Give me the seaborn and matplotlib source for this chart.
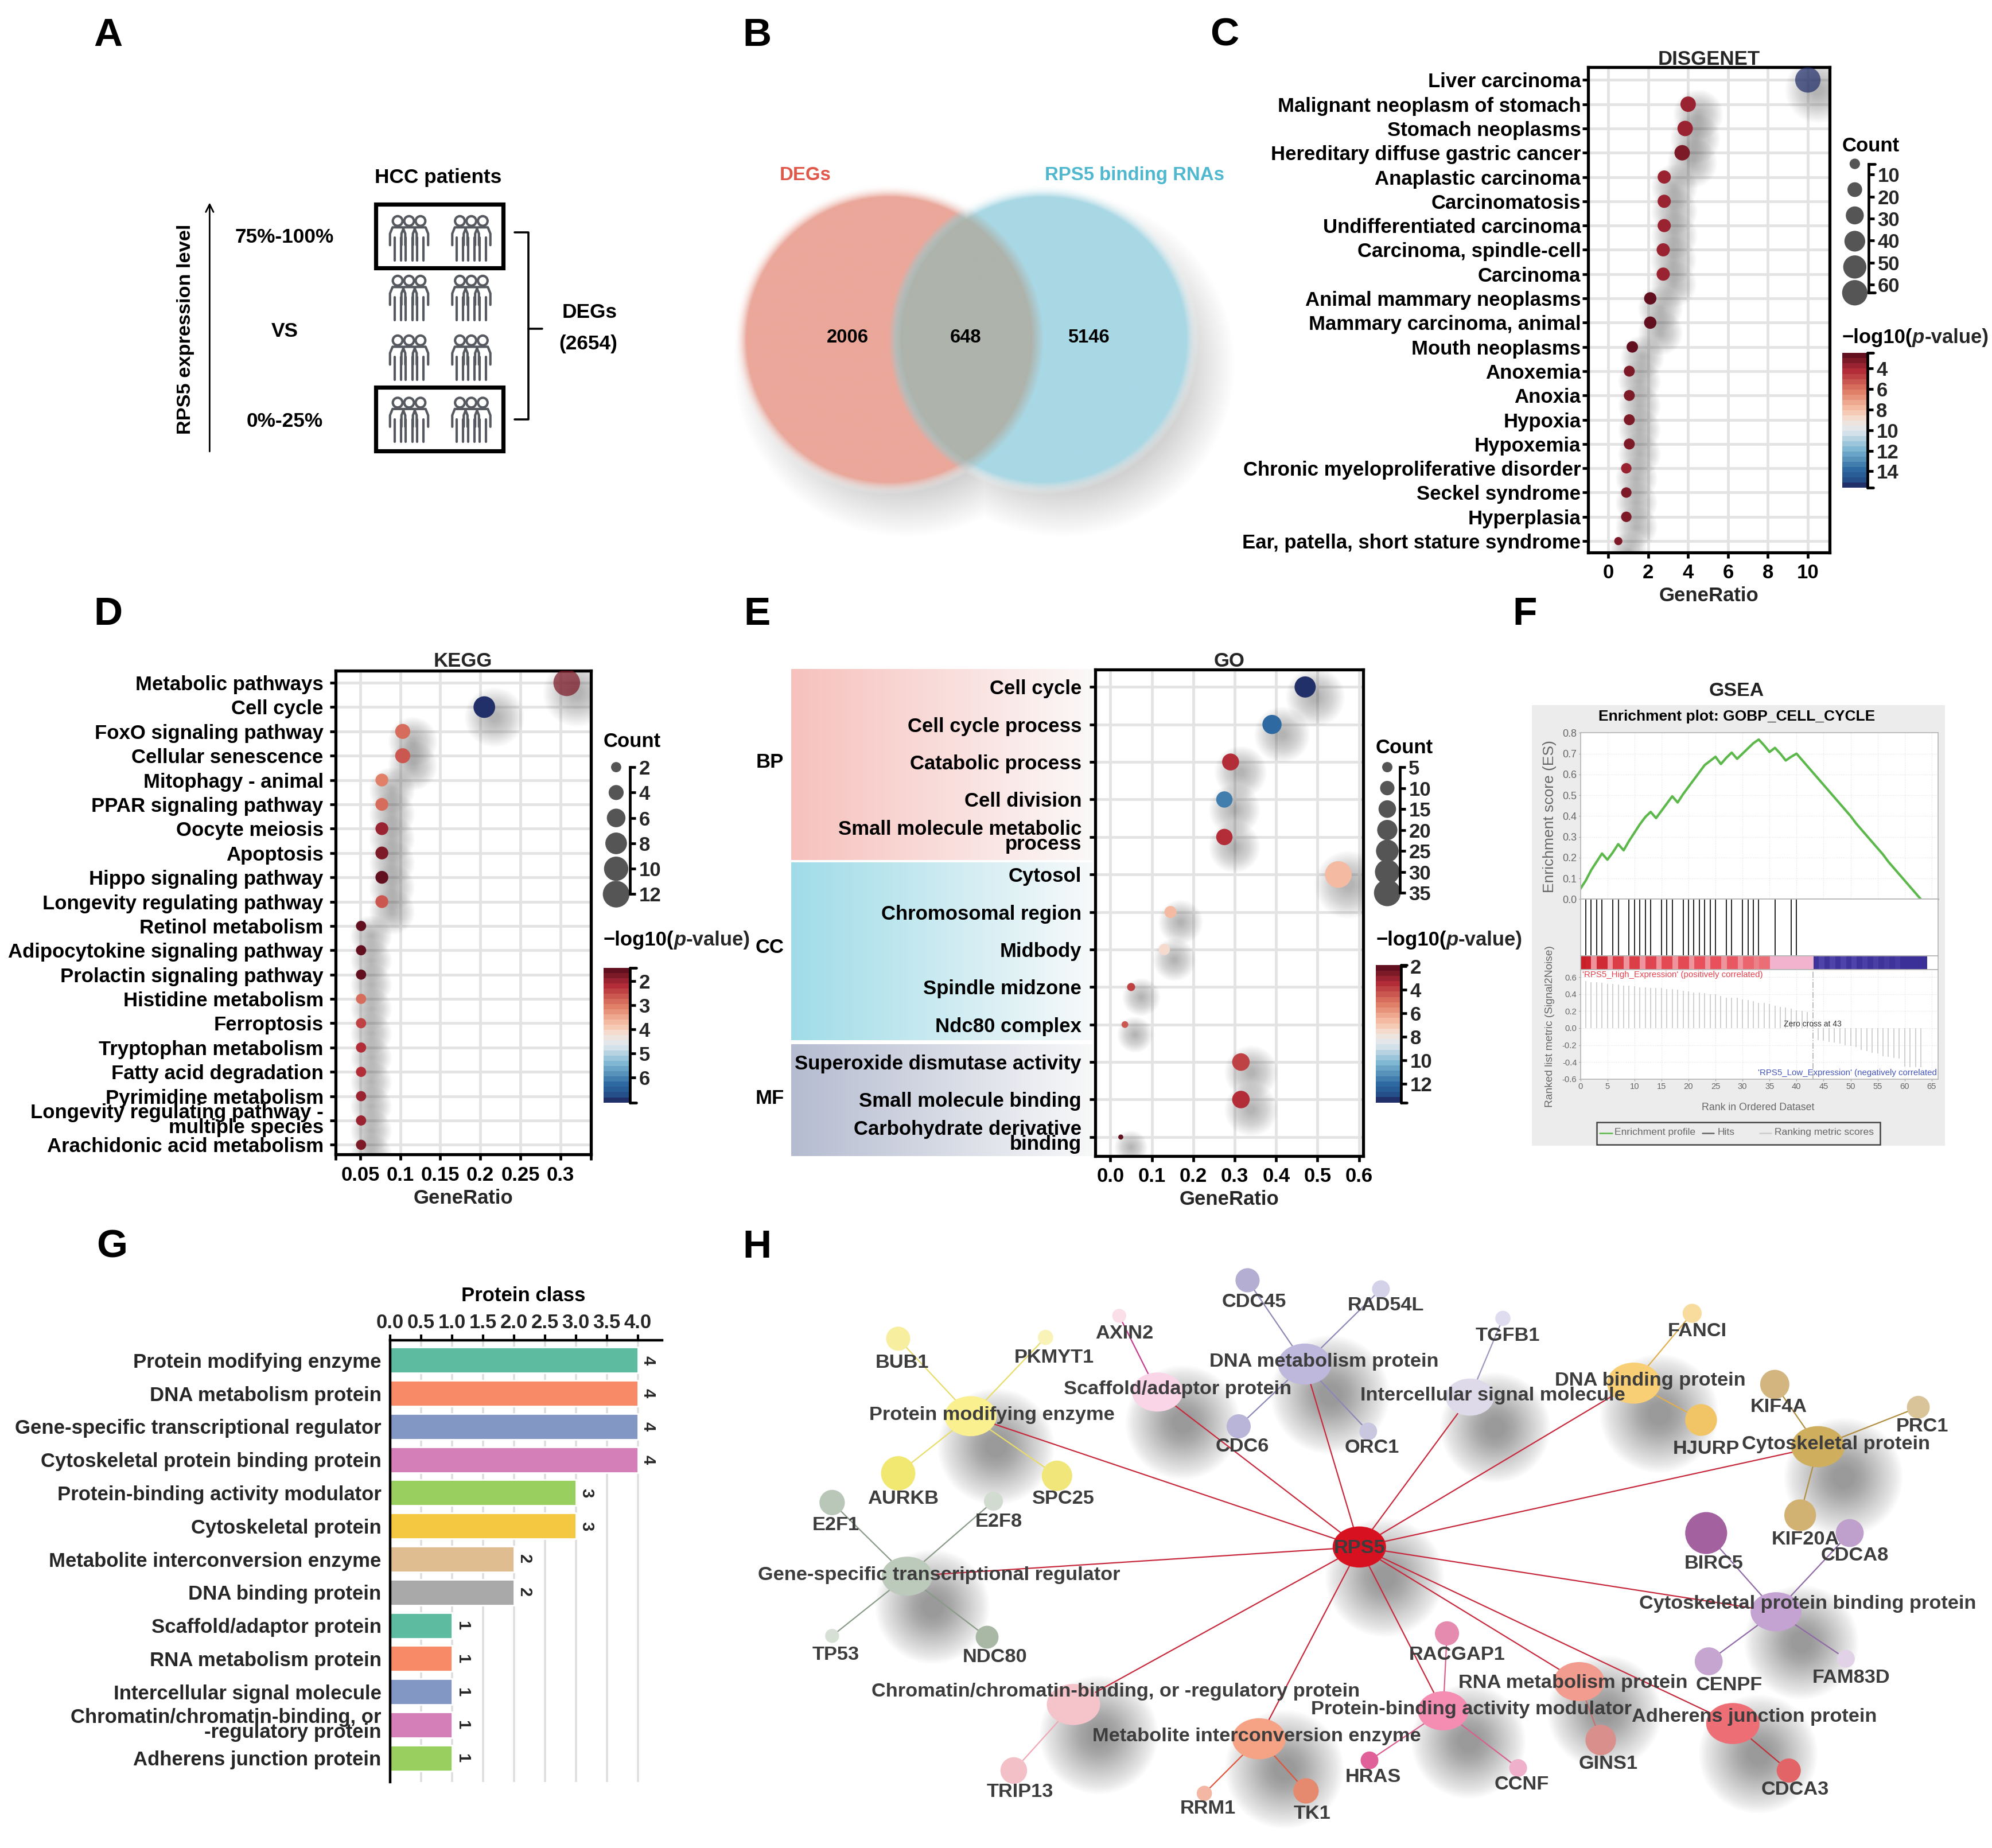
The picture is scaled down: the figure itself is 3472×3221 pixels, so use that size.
import numpy as np
import pandas as pd
import matplotlib
matplotlib.use("Agg")
import matplotlib.pyplot as plt
import seaborn as sns
from matplotlib.cm import ScalarMappable
from matplotlib.colors import LinearSegmentedColormap, ListedColormap, Normalize
from matplotlib.patches import Circle, Rectangle
from matplotlib.path import Path
from matplotlib.transforms import Affine2D, ScaledTranslation

sns.set_theme(style="white")
plt.rcParams["font.family"] = ["Liberation Sans", "DejaVu Sans"]
plt.rcParams["axes.unicode_minus"] = False

# ---------------- data ----------------
disgenet_terms = ["Liver carcinoma", "Malignant neoplasm of stomach", "Stomach neoplasms",
                  "Hereditary diffuse gastric cancer", "Anaplastic carcinoma", "Carcinomatosis",
                  "Undifferentiated carcinoma", "Carcinoma, spindle-cell", "Carcinoma",
                  "Animal mammary neoplasms", "Mammary carcinoma, animal", "Mouth neoplasms",
                  "Anoxemia", "Anoxia", "Hypoxia", "Hypoxemia", "Chronic myeloproliferative disorder",
                  "Seckel syndrome", "Hyperplasia", "Ear, patella, short stature syndrome"]
disgenet_ratio = [10, 4.0, 3.85, 3.7, 2.8, 2.8, 2.8, 2.75, 2.75, 2.1, 2.1, 1.2, 1.05, 1.05, 1.05, 1.05, 0.9, 0.9, 0.9, 0.5]
disgenet_logp = [15.3, 3.8, 3.5, 3.0, 4.0, 4.0, 4.0, 4.0, 4.0, 2.6, 2.6, 2.7, 3.2, 3.2, 3.2, 3.2, 3.6, 3.2, 3.0, 3.2]
disgenet_count = [60, 22, 22, 22, 16, 16, 16, 16, 16, 14, 14, 12, 11, 11, 11, 11, 10, 10, 10, 6]

kegg_terms = ["Metabolic pathways", "Cell cycle", "FoxO signaling pathway", "Cellular senescence",
              "Mitophagy - animal", "PPAR signaling pathway", "Oocyte meiosis", "Apoptosis",
              "Hippo signaling pathway", "Longevity regulating pathway", "Retinol metabolism",
              "Adipocytokine signaling pathway", "Prolactin signaling pathway", "Histidine metabolism",
              "Ferroptosis", "Tryptophan metabolism", "Fatty acid degradation", "Pyrimidine metabolism",
              "Longevity regulating pathway -\nmultiple species", "Arachidonic acid metabolism"]
kegg_ratio = [0.308, 0.205, 0.103, 0.103, 0.077, 0.077, 0.077, 0.077, 0.077, 0.077,
              0.051, 0.051, 0.051, 0.051, 0.051, 0.051, 0.051, 0.051, 0.051, 0.051]
kegg_logp = [1.8, 7.0, 2.9, 2.7, 3.0, 2.85, 1.9, 1.8, 1.55, 2.6, 1.55, 1.55, 1.6, 2.9, 2.4, 2.3, 2.1, 1.9, 1.9, 1.8]
kegg_count = [12, 8, 4, 4, 3, 3, 3, 3, 3, 3, 2, 2, 2, 2, 2, 2, 2, 2, 2, 2]

go_terms = ["Cell cycle", "Cell cycle process", "Catabolic process", "Cell division",
            "Small molecule metabolic\nprocess", "Cytosol", "Chromosomal region", "Midbody",
            "Spindle midzone", "Ndc80 complex", "Superoxide dismutase activity",
            "Small molecule binding", "Carbohydrate derivative\nbinding"]
go_ratio = [0.47, 0.39, 0.29, 0.275, 0.275, 0.55, 0.145, 0.13, 0.05, 0.035, 0.315, 0.315, 0.025]
go_logp = [13.4, 12.0, 3.5, 11.7, 3.5, 6.8, 6.6, 7.3, 4.0, 4.5, 4.0, 3.3, 2.3]
go_count = [22, 18, 14, 13, 13, 35, 7, 6, 3, 2, 15, 15, 1]

rank = list(range(0, 64))
es_curve = [.05, .09, .14, .18, .22, .19, .225, .265, .235, .28, .32, .36, .395, .42, .39, .425, .46, .495,
            .465, .505, .54, .575, .61, .645, .665, .685, .65, .68, .705, .675, .70, .725, .75, .768, .74,
            .708, .728, .70, .667, .685, .70, .67, .64, .61, .58, .55, .52, .49, .46, .43, .40, .365, .335,
            .305, .275, .245, .215, .18, .15, .12, .09, .06, .03, 0.0]
hit_ranks = [1, 2, 3, 4, 6, 7, 9, 10, 11, 12, 13, 15, 16, 17, 19, 20, 21, 22, 23, 24, 25, 27, 28, 30, 31, 32, 33, 36, 39, 40]
metric_ranks = list(range(1, 43)) + list(range(44, 64))
metric_values = [.55, .54, .54, .53, .52, .52, .51, .5, .5, .49, .48, .48, .47, .47, .47, .46, .46, .45, .44, .43,
                 .42, .42, .41, .4, .4, .38, .36, .36, .36, .34, .33, .32, .3, .3, .28, .26, .25, .24, .23, .21,
                 .2, .19, -.14, -.15, -.16, -.17, -.18, -.2, -.21, -.22, -.26, -.27, -.29, -.3, -.33, -.34, -.35,
                 -.36, -.45, -.46, -.46, -.46]
strip_values = [.6, .58, .25, .56, .56, .25, .5, .5, .25, .5, .5, .25, .48, .48, .25, .46, .46, .25, .46, .46, .25,
                .44, .44, .25, .44, .44, .25, .42, .42, .25, .38, .38, .3, .36, .36, .1, .1, .1, .1, .1, .1, .1, .1,
                -.5, -.3, -.5, -.3, -.5, -.3, -.5, -.3, -.5, -.35, -.5, -.35, -.5, -.4, -.5, -.4, -.55, -.55, -.55,
                -.55, -.55, np.nan, np.nan]

class_names = ["Protein modifying enzyme", "DNA metabolism protein", "Gene-specific transcriptional regulator",
               "Cytoskeletal protein binding protein", "Protein-binding activity modulator", "Cytoskeletal protein",
               "Metabolite interconversion enzyme", "DNA binding protein", "Scaffold/adaptor protein",
               "RNA metabolism protein", "Intercellular signal molecule",
               "Chromatin/chromatin-binding, or\n-regulatory protein", "Adherens junction protein"]
class_values = [4, 4, 4, 4, 3, 3, 2, 2, 1, 1, 1, 1, 1]
class_colors = ["#5dbb9f", "#f98a67", "#8297c4", "#d57fb9", "#98cf5e", "#f5c842", "#e0bd90", "#a9a9a9",
                "#5dbb9f", "#f98a67", "#8297c4", "#d57fb9", "#98cf5e"]

venn_counts = ["2006", "648", "5146"]

network = {
    "Protein modifying enzyme": ["BUB1", "PKMYT1", "AURKB", "SPC25"],
    "DNA metabolism protein": ["CDC45", "RAD54L", "CDC6", "ORC1"],
    "Scaffold/adaptor protein": ["AXIN2"],
    "Intercellular signal molecule": ["TGFB1"],
    "DNA binding protein": ["FANCI", "HJURP"],
    "Cytoskeletal protein": ["KIF4A", "PRC1", "KIF20A"],
    "Cytoskeletal protein binding protein": ["BIRC5", "CDCA8", "CENPF", "FAM83D"],
    "Adherens junction protein": ["CDCA3"],
    "RNA metabolism protein": ["GINS1"],
    "Protein-binding activity modulator": ["RACGAP1", "HRAS", "CCNF"],
    "Metabolite interconversion enzyme": ["TK1", "RRM1"],
    "Chromatin/chromatin-binding, or -regulatory protein": ["TRIP13"],
    "Gene-specific transcriptional regulator": ["E2F1", "E2F8", "TP53", "NDC80"],
}
# node: x, y, width, colour, label x, label y (all in reference pixels)
layout = {
    "RPS5": (1070, 1218, 42, "#d7111f", 1070, 1219),
    "Protein modifying enzyme": (764, 1115, 41, "#fbf08f", 781, 1114),
    "DNA metabolism protein": (1027, 1074, 42, "#bdb8dc", 1042, 1072),
    "Scaffold/adaptor protein": (911, 1096, 40, "#fad5e8", 927, 1094),
    "Intercellular signal molecule": (1157, 1100, 38, "#dedaea", 1175, 1099),
    "DNA binding protein": (1286, 1089, 42, "#f9cf76", 1299, 1087),
    "Cytoskeletal protein": (1431, 1139, 42, "#cfae5e", 1445, 1137),
    "Cytoskeletal protein binding protein": (1398, 1269, 40, "#c4a2d2", 1423, 1263),
    "Adherens junction protein": (1364, 1357, 42, "#ee6e75", 1381, 1352),
    "RNA metabolism protein": (1243, 1324, 40, "#f29c8f", 1238, 1325),
    "Protein-binding activity modulator": (1136, 1347, 40, "#f58cb2", 1158, 1346),
    "Metabolite interconversion enzyme": (991, 1369, 42, "#f6a285", 989, 1367),
    "Chromatin/chromatin-binding, or -regulatory protein": (845, 1342, 42, "#f5c3ca", 878, 1332),
    "Gene-specific transcriptional regulator": (714, 1241, 40, "#bccabb", 739, 1240),
    "BUB1": (707, 1054, 19, "#f8eea0", 710, 1073), "PKMYT1": (823, 1053, 12, "#f9f3b8", 830, 1069),
    "AURKB": (707, 1160, 27, "#f1e872", 711, 1180), "SPC25": (832, 1162, 24, "#f0e67a", 837, 1180),
    "AXIN2": (881, 1036, 11, "#fadfe9", 885, 1050), "CDC45": (982, 1008, 19, "#b3aed2", 987, 1025),
    "RAD54L": (1087, 1015, 14, "#d4d2e8", 1091, 1028), "CDC6": (975, 1123, 19, "#b8b5d8", 978, 1139),
    "ORC1": (1077, 1127, 14, "#c9c7e0", 1080, 1140), "TGFB1": (1183, 1038, 12, "#dedcee", 1187, 1052),
    "FANCI": (1332, 1034, 15, "#f8dc9e", 1336, 1048), "HJURP": (1339, 1118, 25, "#f1c565", 1343, 1141),
    "KIF4A": (1397, 1090, 23, "#d2b57f", 1400, 1108), "PRC1": (1510, 1108, 18, "#d9c49a", 1513, 1123),
    "KIF20A": (1417, 1193, 25, "#d2b272", 1421, 1212), "BIRC5": (1343, 1207, 33, "#a3619f", 1349, 1231),
    "CDCA8": (1456, 1207, 22, "#bf9fcb", 1460, 1225), "CENPF": (1345, 1308, 22, "#c6a5d0", 1361, 1327),
    "FAM83D": (1453, 1306, 14, "#e2d2e8", 1457, 1321), "CDCA3": (1408, 1394, 19, "#e26467", 1413, 1409),
    "GINS1": (1260, 1370, 24, "#d98f8c", 1266, 1389), "RACGAP1": (1139, 1286, 19, "#e58bb0", 1147, 1303),
    "CCNF": (1195, 1392, 14, "#efb0cc", 1198, 1405), "HRAS": (1078, 1386, 14, "#e0609a", 1081, 1399),
    "TK1": (1028, 1410, 20, "#e58a6f", 1033, 1428), "RRM1": (948, 1412, 12, "#f4b7a3", 951, 1424),
    "TRIP13": (798, 1394, 21, "#f3c0c8", 803, 1411), "E2F1": (655, 1183, 20, "#b8c7b8", 658, 1201),
    "E2F8": (782, 1182, 15, "#d1dbd0", 786, 1198), "TP53": (655, 1288, 11, "#d6e0d5", 658, 1303),
    "NDC80": (777, 1289, 18, "#a8b8a5", 783, 1305),
}
edge_colors = {
    "Protein modifying enzyme": "#e8dc6a", "DNA metabolism protein": "#8b88b8", "Scaffold/adaptor protein": "#c8388f",
    "Intercellular signal molecule": "#9a97c0", "DNA binding protein": "#e0b050", "Cytoskeletal protein": "#b09040",
    "Cytoskeletal protein binding protein": "#8f6aa6", "Adherens junction protein": "#c03038",
    "RNA metabolism protein": "#c87070", "Protein-binding activity modulator": "#d8608f",
    "Metabolite interconversion enzyme": "#e0553a", "Chromatin/chromatin-binding, or -regulatory protein": "#f0a8b4",
    "Gene-specific transcriptional regulator": "#8a9a88",
}

# ---------------- figure helpers ----------------
W, H = 1568, 1455  # reference units, everything below is placed in these
PT = (3472 / W) * 72 / 200  # points per reference unit
FS = 12.5
fig = plt.figure(figsize=(17.36, 16.105), dpi=200, facecolor="white")


def ax_at(x0, y0, x1, y1, **kw):
    return fig.add_axes([x0 / W, 1 - y1 / H, (x1 - x0) / W, (y1 - y0) / H], **kw)


canvas = fig.add_axes([0, 0, 1, 1], zorder=0)
canvas.set_xlim(0, W)
canvas.set_ylim(H, 0)
canvas.axis("off")

# same stepped look as the reference colour bars
rdbu = ListedColormap(LinearSegmentedColormap.from_list(
    "rdbu_ref", [(0, "#62101f"), (0.115, "#b22c38"), (0.27, "#df7c64"), (0.42, "#f7c4ab"), (0.5, "#f3e3da"),
                 (0.58, "#dfe8ee"), (0.73, "#7ab4d0"), (0.88, "#2e6ba2"), (0.96, "#25508a"), (1, "#22306a")])(np.linspace(0, 1, 26)))


def txt(x, y, s, fs=FS, color="black", weight="bold", ha="center", va="center", **kw):
    return canvas.text(x, y, s, fontsize=fs, color=color, fontweight=weight, ha=ha, va=va, **kw)


def add_shadow(ax, x, y, sizes, dx=8, dy=8, rel=1.2, extra=20, zorder=2, layers=30, alpha=0.011):
    # soft drop shadow made of stacked transparent discs
    off = ax.transData + ScaledTranslation(dx * PT / 72, -dy * PT / 72, fig.dpi_scale_trans)
    base = np.sqrt(np.asarray(sizes, dtype=float))
    for t in np.linspace(0, 1, layers):
        d = base * (0.4 + t * rel) + t * extra * PT
        ax.scatter(x, y, s=d ** 2, color="#2a2a2a", alpha=alpha, linewidths=0, transform=off, zorder=zorder)


def dot_panel(rect, terms, ratio, logp, count, title, xticks, xlabels, xlim, ylim, hue_norm, size_norm, sizes, ypad=2.5, alpha=None):
    ax = ax_at(*rect, zorder=2)
    ax.set_facecolor("none")
    y = np.arange(len(terms))
    df = pd.DataFrame({"ratio": ratio, "row": y, "logp": logp, "count": count})
    sns.scatterplot(data=df, x="ratio", y="row", hue="logp", size="count", palette=rdbu, hue_norm=hue_norm,
                    size_norm=size_norm, sizes=sizes, linewidth=0, legend=False, ax=ax, zorder=4)
    pc = ax.collections[-1]
    if alpha is not None:
        pc.set_alpha(alpha)
    add_shadow(ax, df["ratio"], df["row"], pc.get_sizes())
    ax.set_xlim(*xlim)
    ax.set_ylim(*ylim)
    ax.set_xticks(xticks, xlabels)
    ax.set_yticks(y, terms)
    ax.set_axisbelow(True)
    ax.grid(True, color="#e3e3e3", lw=1.7)
    for sp in ax.spines.values():
        sp.set_visible(True)
        sp.set_linewidth(1.9)
        sp.set_color("black")
    ax.tick_params(axis="both", length=3.5, width=1.7, color="black", bottom=True, left=True)
    ax.tick_params(axis="x", pad=3.5)
    ax.tick_params(axis="y", pad=ypad)
    for lab in ax.get_xticklabels() + ax.get_yticklabels():
        lab.set_fontweight("bold")
        lab.set_fontsize(FS)
        lab.set_color("black")
    for lab in ax.get_yticklabels():
        lab.set_linespacing(0.72)
        lab.set_multialignment("right")
    ax.set_title(title, fontsize=FS, fontweight="bold", pad=1.5)
    ax.set_xlabel("GeneRatio", fontsize=FS, fontweight="bold", labelpad=2.5)
    ax.set_ylabel("")
    return ax


def count_legend(x_spine, x_dot, y0, y1, values, sizes, size_norm, title_x, title_y, dot_y0=None, dot_y1=None):
    # axes runs in reference pixels so the dots and the ticks can be spaced apart
    dot_y0 = y0 if dot_y0 is None else dot_y0
    dot_y1 = y1 if dot_y1 is None else dot_y1
    top, bot = min(y0, dot_y0) - 12, max(y1, dot_y1) + 14
    ax = ax_at(x_spine - 30, top, x_spine, bot, zorder=2)
    ax.set_facecolor("none")
    sns.scatterplot(x=[x_dot] * len(values), y=np.linspace(dot_y0, dot_y1, len(values)), size=values, sizes=sizes,
                    size_norm=size_norm, color="#555555", linewidth=0, legend=False, ax=ax, clip_on=False)
    ax.set_xlim(x_spine - 30, x_spine)
    ax.set_ylim(bot, top)
    ax.set_xticks([])
    ax.yaxis.tick_right()
    ax.set_yticks(np.linspace(y0, y1, len(values)), [str(v) for v in values])
    ax.tick_params(axis="y", length=3.5, width=1.7, color="black", right=True, pad=2)
    for lab in ax.get_yticklabels():
        lab.set_fontweight("bold")
        lab.set_fontsize(FS)
    for k, sp in ax.spines.items():
        sp.set_visible(k == "right")
    ax.spines["right"].set_color("black")
    ax.spines["right"].set_linewidth(1.7)
    ax.spines["right"].set_bounds(min(y0, dot_y0), max(y1, dot_y1))
    if dot_y0 < y0:
        ax.plot([x_spine, x_spine + 5], [dot_y0, dot_y0], color="black", lw=1.7, clip_on=False)
        ax.plot([x_spine, x_spine + 5], [dot_y1, dot_y1], color="black", lw=1.7, clip_on=False)
    txt(title_x, title_y, "Count", ha="left")


def color_legend(x0, y0, x1, y1, lo, hi, ticks, title_x, title_y):
    cax = ax_at(x0, y0, x1, y1, zorder=2)
    cb = fig.colorbar(ScalarMappable(Normalize(lo, hi), rdbu), cax=cax)
    cb.outline.set_visible(False)
    cax.set_ylim(hi, lo)
    cb.set_ticks(ticks, labels=[str(t) for t in ticks])
    cax.tick_params(axis="y", length=3.5, width=1.7, color="black", right=True, pad=2)
    for lab in cax.get_yticklabels():
        lab.set_fontweight("bold")
        lab.set_fontsize(FS)
    cax.plot([1, 1], [lo, hi], color="black", lw=1.7, clip_on=False, zorder=5)
    for end in (lo, hi):
        cax.plot([1, 1.22], [end, end], color="black", lw=1.7, clip_on=False, zorder=5)
    # title has an italic p, so it is chained from three text pieces
    t1 = txt(title_x, title_y, "\u2212log10(", ha="left")
    t2 = canvas.annotate("p", xy=(1, 0), xycoords=t1, va="bottom", fontsize=FS, fontweight="bold", fontstyle="italic")
    canvas.annotate("-value)", xy=(1, 0), xycoords=t2, va="bottom", fontsize=FS, fontweight="bold")


# ---------------- panel letters ----------------
for letter, lx, ly in [("A", 85, 28), ("B", 596, 28), ("C", 964, 28), ("D", 85, 484), ("E", 596, 484),
                       ("F", 1200, 484), ("G", 88, 982), ("H", 596, 982)]:
    txt(lx, ly, letter, fs=25)

# ---------------- A ----------------
txt(345, 140, "HCC patients", fs=12.7)
txt(146, 259, "RPS5 expression level", fs=12.4, rotation=90)
txt(224, 187, "75%-100%", fs=12.7)
txt(224, 261, "VS", fs=12.7)
txt(224, 332, "0%-25%", fs=12.7)
txt(464, 246, "DEGs", fs=12.7)
txt(463, 271, "(2654)", fs=12.7)
canvas.annotate("", xy=(165, 157), xytext=(165, 358), arrowprops=dict(arrowstyle="->", lw=1, color="black"))
for by in (161, 305):
    canvas.add_patch(Rectangle((296, by), 100, 50, fill=False, ec="black", lw=2.6))
canvas.plot([405, 416, 416, 405], [183, 183, 330, 330], color="black", lw=1.3)
canvas.plot([416, 427], [259, 259], color="black", lw=1.3)
for gx in (322, 371):
    for gy in (187, 234, 281, 330):
        for px in (gx - 9, gx + 9, gx):
            head_y = gy - 13
            canvas.add_patch(Circle((px, head_y), 3.8, fill=True, fc="white", ec="#565a60", lw=1.5, zorder=3))
            canvas.plot(px + np.array([-6, -6, -4, 4, 6, 6]), gy + np.array([6, -3, -8, -8, -3, 6]),
                        color="#565a60", lw=1.5, zorder=3)
            canvas.plot([px - 2.5, px - 2.5], [gy, gy + 18], color="#565a60", lw=1.5, zorder=3)
            canvas.plot([px + 2.5, px + 2.5], [gy, gy + 18], color="#565a60", lw=1.5, zorder=3)

# ---------------- B ----------------
gx_, gy_ = np.meshgrid(np.arange(540, 990, 1.0), np.arange(120, 440, 1.0))


def soft_disc(cx, cy, r, w):
    return np.clip((r - np.hypot(gx_ - cx, gy_ - cy)) / w + 0.5, 0, 1)


shadow_a = np.maximum(soft_disc(712, 287, 108, 55), soft_disc(836, 287, 108, 55)) * 0.4
canvas.imshow(np.dstack([np.full_like(gx_, 0.35)] * 3 + [shadow_a]), extent=(540, 990, 440, 120), aspect="auto", zorder=1)
left = soft_disc(699, 267, 117, 10)
right = soft_disc(821, 267, 117, 10)
img = np.ones(gx_.shape + (3,))
for c, m in ((np.array([0xea, 0xa7, 0x9a]) / 255, left), (np.array([0xa9, 0xd8, 0xe5]) / 255, right)):
    img = img * (1 - m[..., None]) + c * m[..., None]
both = (left * right)[..., None]
img = img * (1 - both) + np.array([0xae, 0xb3, 0xab]) / 255 * both
alpha_b = np.maximum(left, right)
canvas.imshow(np.dstack([img, alpha_b]), extent=(540, 990, 440, 120), aspect="auto", zorder=1.5)
canvas.set_xlim(0, W)
canvas.set_ylim(H, 0)
txt(634, 138, "DEGs", fs=11.9, color="#e0584a")
txt(893, 138, "RPS5 binding RNAs", fs=11.9, color="#4fb8cf")
for vx, vs in zip((667, 760, 857), venn_counts):
    txt(vx, 266, vs, fs=11.8, zorder=3)

# ---------------- C ----------------
dot_panel((1250, 53, 1440, 435), disgenet_terms, disgenet_ratio, disgenet_logp, disgenet_count, "DISGENET",
          [0, 2, 4, 6, 8, 10], ["0", "2", "4", "6", "8", "10"], (-1.02, 11.08), (19.47, -0.52),
          (2.49, 15.6), (5, 65), (22, 275), ypad=1.0, alpha=[0.72] + [1] * 19)
count_legend(1471, 1460, 137.5, 224, [10, 20, 30, 40, 50, 60], (22, 275), (5, 65), 1450, 115, dot_y0=129, dot_y1=230.5)
color_legend(1450, 278, 1470, 384, 2.49, 15.6, [4, 6, 8, 10, 12, 14], 1450, 266)

# ---------------- D ----------------
ax_d = dot_panel((264, 528, 465, 909), kegg_terms, kegg_ratio, kegg_logp, kegg_count, "KEGG",
                 [0.05, 0.1, 0.15, 0.2, 0.25, 0.3], ["0.05", "0.1", "0.15", "0.2", "0.25", "0.3"],
                 (0.0189, 0.338), (19.4, -0.5), (1.44, 7.03), (2, 12), (41, 280), ypad=4.0, alpha=[0.72] + [1] * 19)
ax_d.set_xticks([0.0189, 0.338], minor=True)
ax_d.tick_params(axis="x", which="minor", length=3.5, width=1.7, color="black", bottom=True)
count_legend(496, 485, 604, 704, [2, 4, 6, 8, 10, 12], (41, 280), (2, 12), 475, 584)
color_legend(475, 762, 496, 868, 1.44, 7.03, [2, 3, 4, 5, 6], 475, 740)

# ---------------- E ----------------
for (y0, y1, col, lab, ly) in [(527, 677, "#f7c1bd", "BP", 600), (679, 819, "#a0dce8", "CC", 746), (822, 910, "#b5bcd0", "MF", 865)]:
    grad = LinearSegmentedColormap.from_list("g", [col, "#fbfbfb"])
    canvas.imshow(np.linspace(0, 1, 200)[None, :], cmap=grad, vmin=0, vmax=1.05, extent=(623, 860, y1, y0), aspect="auto", zorder=1)
    txt(606, ly, lab)
canvas.set_xlim(0, W)
canvas.set_ylim(H, 0)
dot_panel((862, 527, 1073, 910), go_terms, go_ratio, go_logp, go_count, "GO",
          [0, .1, .2, .3, .4, .5, .6], ["0.0", "0.1", "0.2", "0.3", "0.4", "0.5", "0.6"],
          (-0.037, 0.61), (12.5, -0.47), (1.9, 13.6), (1, 35), (10, 280), ypad=5.0)
count_legend(1102, 1092, 604, 703, [5, 10, 15, 20, 25, 30, 35], (10, 280), (1, 35), 1083, 589)
color_legend(1083, 760, 1103, 868, 1.9, 13.6, [2, 4, 6, 8, 10, 12], 1083, 740)

# ---------------- F ----------------
canvas.add_patch(Rectangle((1206, 555), 325, 347, fc="#ececec", ec="none", zorder=1))
txt(1367, 544, "GSEA", fs=12.2, color="#222222")
txt(1367, 564, "Enrichment plot: GOBP_CELL_CYCLE", fs=9.5)
GRAY = "#666666"
F_X0, F_X1 = 1244, 1525.6
ax_es = ax_at(F_X0, 577, F_X1, 708, zorder=2)
sns.lineplot(x=rank, y=es_curve, color="#5cb84a", lw=1.5, ax=ax_es)
ax_es.set_ylim(0, 0.8)
ax_es.set_yticks(np.arange(0, 0.81, 0.1), [f"{v:.1f}" for v in np.arange(0, 0.81, 0.1)])
ax_hit = ax_at(F_X0, 708, F_X1, 752.5, zorder=2)
ax_hit.vlines(hit_ranks, 0, 1, color="#222222", lw=0.7)
ax_hit.set_ylim(0, 0.98)
ax_hit.set_yticks([])
ax_strip = ax_at(F_X0, 752.5, F_X1, 763.3, zorder=2)
strip_cmap = LinearSegmentedColormap.from_list(
    "s", [(0, "#372c94"), (0.3, "#5247ac"), (0.495, "#5247ac"), (0.5, "#f2b3cf"), (0.62, "#f2b3cf"),
          (0.72, "#ef8f97"), (0.87, "#e8505a"), (1, "#c81e28")])
sns.heatmap(np.array([strip_values]), cmap=strip_cmap, vmin=-0.6, vmax=0.6, cbar=False, xticklabels=False,
            yticklabels=False, ax=ax_strip)
ax_metric = ax_at(F_X0, 763.3, F_X1, 849.6, zorder=2)
ax_metric.vlines(metric_ranks, 0, metric_values, color="#c8c8c8", lw=0.6)
ax_metric.vlines([43], -0.6, 0.69, color="#b0b0b0", lw=0.6, ls="-.")
ax_metric.set_ylim(-0.6, 0.69)
ax_metric.set_yticks([-.6, -.4, -.2, 0, .2, .4, .6], ["-0.6", "-0.4", "-0.2", "0.0", "0.2", "0.4", "0.6"])
ax_metric.set_xticks(range(0, 66, 5))
ax_metric.text(43, 0.05, "Zero cross at 43", ha="center", va="center", fontsize=5, color="#333333")
ax_metric.text(0.4, 0.63, "'RPS5_High_Expression' (positively correlated)", fontsize=5.4, color="#e8404c", va="center")
ax_metric.text(66, -0.53, "'RPS5_Low_Expression' (negatively correlated", fontsize=5.4, color="#4455bb", va="center", ha="right")
for a in (ax_es, ax_hit, ax_strip, ax_metric):
    if a is not ax_strip:
        a.set_xlim(0, 66.2)
    for sp in a.spines.values():
        sp.set_visible(True)
        sp.set_color("#b5b5b5")
        sp.set_linewidth(0.6)
ax_es.spines["bottom"].set_linewidth(1.1)
for a, ts in ((ax_es, 6.5), (ax_metric, 5.3)):
    a.grid(True, color="#e2e2e2", lw=0.4, ls=":")
    a.set_axisbelow(True)
    a.tick_params(axis="y", labelsize=ts, labelcolor=GRAY, length=1.2, width=0.4, color="#999999", pad=1, left=True)
    a.tick_params(axis="x", labelsize=5.3, labelcolor=GRAY, length=1.2, width=0.4, color="#999999", pad=1, bottom=(a is ax_metric))
ax_es.set_xticks(range(0, 66, 5), [])
ax_hit.set_xticks([])
txt(1220, 643, "Enrichment score (ES)", fs=9.5, color=GRAY, weight="normal", rotation=90, zorder=3)
txt(1220, 808, "Ranked list metric (Signal2Noise)", fs=6.9, color=GRAY, weight="normal", rotation=90, zorder=3)
txt(1384, 872, "Rank in Ordered Dataset", fs=6.4, color=GRAY, weight="normal", zorder=3)
canvas.add_patch(Rectangle((1257, 883.5), 223, 17.5, fc="#ececec", ec="#444444", lw=0.9, zorder=2))
for lx0, lx1, lc, tx, ts in [(1259, 1269, "#5cb84a", 1271, "Enrichment profile"), (1340, 1349, "#666666", 1352, "Hits"),
                             (1385, 1394, "#cccccc", 1397, "Ranking metric scores")]:
    canvas.plot([lx0, lx1], [892, 892], color=lc, lw=0.9, zorder=3)
    txt(tx, 891.5, ts, fs=6.3, color=GRAY, weight="normal", ha="left", zorder=3)

# ---------------- G ----------------
ax_g = ax_at(307, 1055, 521, 1403, zorder=2)
ax_g.set_facecolor("none")
g_df = pd.DataFrame({"name": class_names, "value": class_values})
ax_g.set_axisbelow(True)
ax_g.grid(True, axis="x", color="#dedede", lw=1.3)
sns.barplot(data=g_df, x="value", y="name", hue="name", palette=class_colors, legend=False, width=0.78, saturation=1, ax=ax_g)
ax_g.set_xlim(0, 4.39)
ax_g.set_ylim(12.72, -0.61)
ax_g.xaxis.tick_top()
ticks_g = np.arange(0, 4.01, 0.5)
ax_g.set_xticks(ticks_g, [f"{v:.1f}" for v in ticks_g])
ax_g.tick_params(axis="x", length=3.5, width=1.5, color="black", top=True, pad=1.5, labelsize=FS)
ax_g.tick_params(axis="y", length=0, pad=5.5, labelsize=FS)
for lab in ax_g.get_xticklabels() + ax_g.get_yticklabels():
    lab.set_fontweight("bold")
for lab in ax_g.get_yticklabels():
    lab.set_linespacing(0.72)
    lab.set_multialignment("right")
ax_g.set_xlabel("")
ax_g.set_ylabel("")
for k, sp in ax_g.spines.items():
    sp.set_visible(k in ("top", "left"))
    sp.set_color("black")
    sp.set_linewidth(1.6)
for i, v in enumerate(class_values):
    ax_g.text(v + 0.04, i, str(v), rotation=270, fontsize=10.5, fontweight="bold", ha="left", va="center")
txt(412, 1020, "Protein class")

# ---------------- H ----------------
hx, hy = layout["RPS5"][:2]
for cat, leaves in network.items():
    cx, cy = layout[cat][:2]
    canvas.plot([hx, cx], [hy, cy], color="#c8283c", lw=0.8, zorder=2)
    for leaf in leaves:
        canvas.plot([cx, layout[leaf][0]], [cy, layout[leaf][1]], color=edge_colors[cat], lw=0.8, zorder=2)
hubs = ["RPS5"] + list(network.keys())
hub_s = [(layout[n][2] * PT) ** 2 for n in hubs]
add_shadow(canvas, [layout[n][0] for n in hubs], [layout[n][1] for n in hubs], hub_s, dx=20, dy=24, rel=1.3,
           extra=22, zorder=1.8, layers=34, alpha=0.016)
canvas.set_xlim(0, W)
canvas.set_ylim(H, 0)
leaf_names = [n for n in layout if n not in hubs]
for group, marker in ((hubs, Path.unit_circle().transformed(Affine2D().scale(1.3, 1))), (leaf_names, "o")):
    node_df = pd.DataFrame({"x": [layout[n][0] for n in group], "y": [layout[n][1] for n in group], "name": group,
                            "s": [(layout[n][2] * PT) ** 2 for n in group]})
    sns.scatterplot(data=node_df, x="x", y="y", hue="name", palette={n: layout[n][3] for n in group}, size="s",
                    sizes={v: v for v in node_df["s"].unique()}, marker=marker, linewidth=0, legend=False, ax=canvas, zorder=3)
canvas.set_xlabel("")
canvas.set_ylabel("")
for n in layout:
    txt(layout[n][4], layout[n][5], n, color="#3d3d3d", zorder=4, fs=12.4)
canvas.set_xlim(0, W)
canvas.set_ylim(H, 0)

fig.savefig("out.png", dpi=200, facecolor="white")
print("done")
